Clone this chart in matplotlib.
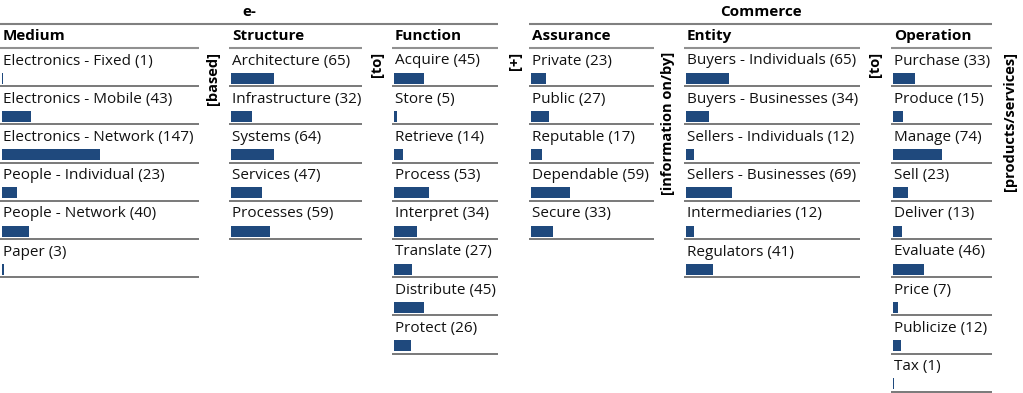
"""
e-Commerce taxonomy: category counts shown as small bars under each label.
"""

import matplotlib
matplotlib.use("Agg")
import matplotlib.pyplot as plt

# --- data ---
medium_labels = ["Electronics - Fixed", "Electronics - Mobile", "Electronics - Network",
                 "People - Individual", "People - Network", "Paper"]
medium_counts = [1, 43, 147, 23, 40, 3]

structure_labels = ["Architecture", "Infrastructure", "Systems", "Services", "Processes"]
structure_counts = [65, 32, 64, 47, 59]

function_labels = ["Acquire", "Store", "Retrieve", "Process", "Interpret",
                   "Translate", "Distribute", "Protect"]
function_counts = [45, 5, 14, 53, 34, 27, 45, 26]

assurance_labels = ["Private", "Public", "Reputable", "Dependable", "Secure"]
assurance_counts = [23, 27, 17, 59, 33]

entity_labels = ["Buyers - Individuals", "Buyers - Businesses", "Sellers - Individuals",
                 "Sellers - Businesses", "Intermediaries", "Regulators"]
entity_counts = [65, 34, 12, 69, 12, 41]

operation_labels = ["Purchase", "Produce", "Manage", "Sell", "Deliver", "Evaluate",
                    "Price", "Publicize", "Tax"]
operation_counts = [33, 15, 74, 23, 13, 46, 7, 12, 1]

column_names = ["Medium", "Structure", "Function", "Assurance", "Entity", "Operation"]
connectors = ["[based]", "[to]", "[+]", "[information on/by]", "[to]", "[products/services]"]
group_names = ["e-", "Commerce"]

# --- layout (pixel coordinates) ---
col_spans = [(0, 199), (229, 362), (392, 498), (529, 654), (684, 860), (891, 992)]
connector_x = [213, 377, 515, 668, 875, 1010]
group_spans = [(0, 498), (529, 992)]
header_line_y = 48
row_h = 38.2
px_per_unit = 2 / 3
bar_color = "#1f497d"
font = "Open Sans"

columns = [
    (medium_labels, medium_counts),
    (structure_labels, structure_counts),
    (function_labels, function_counts),
    (assurance_labels, assurance_counts),
    (entity_labels, entity_counts),
    (operation_labels, operation_counts),
]

fig = plt.figure(figsize=(10.23, 3.93), dpi=100)
ax = fig.add_axes([0, 0, 1, 1])
ax.set_xlim(0, 1023)
ax.set_ylim(393, 0)
ax.axis("off")

# group headers
for name, (x0, x1) in zip(group_names, group_spans):
    ax.text((x0 + x1) / 2, 12, name, ha="center", va="center",
            fontsize=11, fontweight="bold", family=font)
    ax.plot([x0, x1], [24, 24], color="#808080", lw=1.5, solid_capstyle="butt")

# columns
for name, (labels, counts), (x0, x1) in zip(column_names, columns, col_spans):
    ax.text(x0 + 3, 36, name, ha="left", va="center",
            fontsize=11, fontweight="bold", family=font)
    ax.plot([x0, x1], [header_line_y, header_line_y], color="#909090", lw=1.5,
            solid_capstyle="butt")
    for i, (lab, c) in enumerate(zip(labels, counts)):
        top = header_line_y + i * row_h
        bottom = top + row_h
        ax.text(x0 + 3, top + 13, f"{lab} ({c})", ha="left", va="center",
                fontsize=11.0, family=font, color="#111111")
        ax.barh(bottom - 8, c * px_per_unit, height=11, left=x0 + 2,
                color=bar_color, edgecolor="none")
        ax.plot([x0, x1], [bottom, bottom], color="#555555", lw=1.1,
                solid_capstyle="butt")

# connector words between columns
for word, x in zip(connectors, connector_x):
    ax.text(x, 52, word, rotation=90, ha="center", va="top",
            fontsize=10.5, fontweight="bold", family=font)

fig.savefig("out.png", dpi=100)
